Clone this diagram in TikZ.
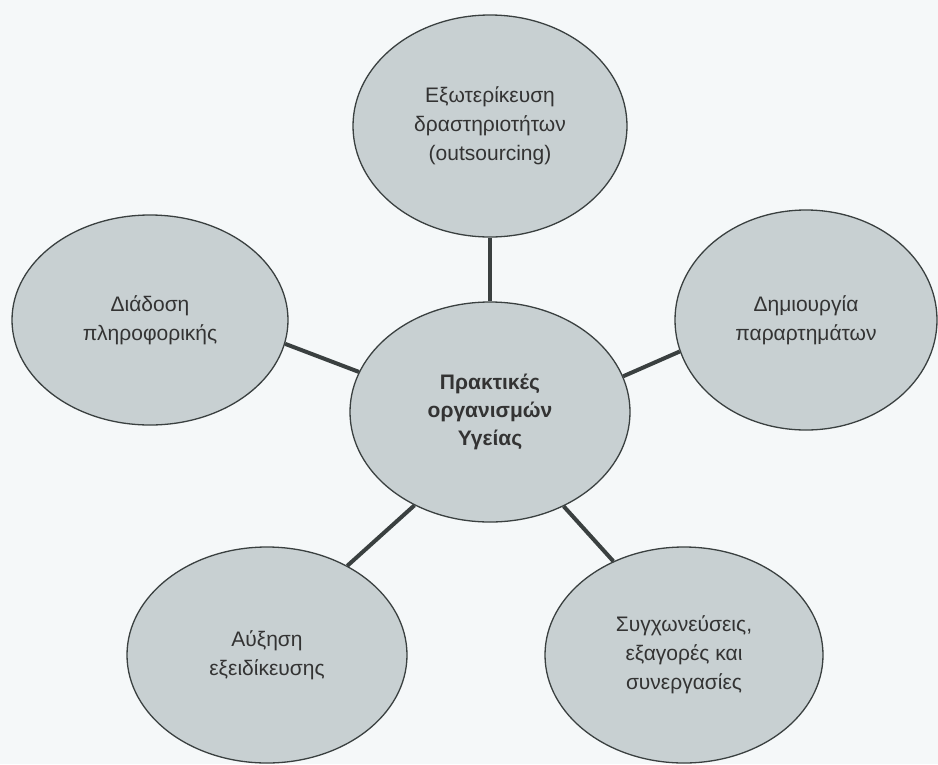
\documentclass[tikz,border=0pt]{standalone}
\usepackage{fontspec}
\setmainfont{Liberation Sans}
\usetikzlibrary{shapes.geometric}
\definecolor{bubble}{HTML}{C8D0D2}
\definecolor{rim}{HTML}{3A4040}
\definecolor{paper}{HTML}{F5F8F9}
\begin{document}
\begin{tikzpicture}[x=1pt,y=1pt,
  bubble/.style={ellipse,draw=rim,line width=1.3pt,fill=bubble,inner sep=0pt,align=center,text=black!80,font=\fontsize{21}{29}\selectfont},
  link/.style={draw=rim,line width=4pt}]
\fill[paper](0,0)rectangle(938,-764);
\useasboundingbox(0,0)rectangle(938,-764);
\node[bubble,minimum width=274pt,minimum height=222pt](ext)at(490,-126){Εξωτερίκευση\\δραστηριοτήτων\\(outsourcing)};
\node[bubble,minimum width=280pt,minimum height=220pt,font=\bfseries\fontsize{21}{28}\selectfont](core)at(490,-412){Πρακτικές\\οργανισμών\\Υγείας};
\node[bubble,minimum width=276pt,minimum height=210pt](info)at(150,-320){Διάδοση\\πληροφορικής};
\node[bubble,minimum width=262pt,minimum height=220pt](branch)at(806,-320){Δημιουργία\\παραρτημάτων};
\node[bubble,minimum width=280pt,minimum height=216pt](spec)at(267,-655){Αύξηση\\εξειδίκευσης};
\node[bubble,minimum width=278pt,minimum height=216pt](merge)at(684,-655){Συγχωνεύσεις,\\εξαγορές και\\συνεργασίες};
\draw[link](ext.-90)--(core.90);
\draw[link](core.163)--(info.-10);
\draw[link](core.15)--(branch.-166);
\draw[link](core.-129)--(spec.48);
\draw[link](core.-52)--(merge.127);
\end{tikzpicture}
\end{document}
